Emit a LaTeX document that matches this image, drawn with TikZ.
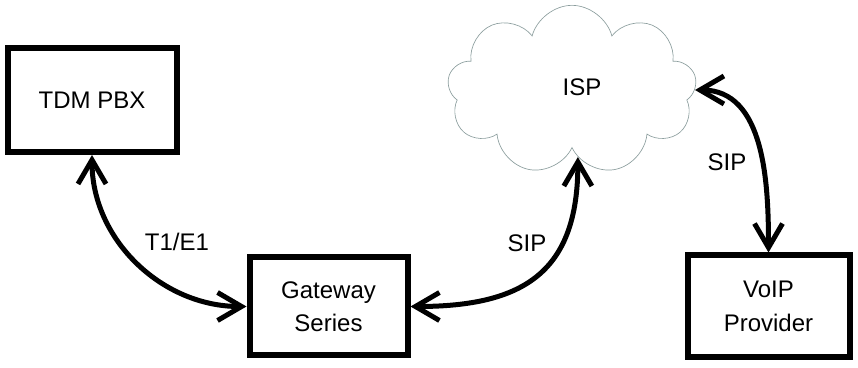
\documentclass[tikz,border=0pt]{standalone}
\usepackage{fontspec}
\setmainfont{Liberation Sans}
\usepackage{tikz}
\usetikzlibrary{positioning, shapes, shapes.symbols, arrows, arrows.meta}
\definecolor{cloudgray}{rgb}{0.55, 0.62, 0.62}

\begin{document}
\begin{tikzpicture}[x=0.75pt, y=0.75pt, every node/.style={font=\fontsize{18}{25}\selectfont}]
				\tikzset{box/.style={draw, line width=4.5pt, align=center, inner sep=0pt},
					link/.style={line width=3.75pt, {Straight Barb[length=18pt, width=21pt]}-{Straight Barb[length=18pt, width=21pt]}}}
				\useasboundingbox (0,0) rectangle (858,368);
				
				\node[box, minimum width=126.75pt, minimum height=78pt] (pbx) at (92,268) {TDM PBX};
				\node[box, minimum width=118.5pt, minimum height=73.5pt] (gw) at (328.5,61.5) {Gateway\\Series};
				\node[box, minimum width=121.5pt, minimum height=76.5pt] (voip) at (768.5,61.5) {VoIP\\Provider};
				\node[cloud, draw=cloudgray, line width=0.5pt, cloud puffs=9, aspect=1.5, minimum width=187pt, minimum height=127pt] (isp) at (572,278) {};
				\node (isplabel) at (582,281) {ISP};
				
				\draw[link] (pbx.south) to[out=-90, in=180] (gw.west);
				\draw[link] (gw.east) to[out=0, in=-90, looseness=1.3] (isp.-85);
				\draw[link] (isp.east) to[out=0, in=90] (voip.north);
				
				\node (t1) at (177,126) {T1/E1};
				\node (sip1) at (527,125) {SIP};
				\node (sip2) at (727,206) {SIP};
\end{tikzpicture}
\end{document}
